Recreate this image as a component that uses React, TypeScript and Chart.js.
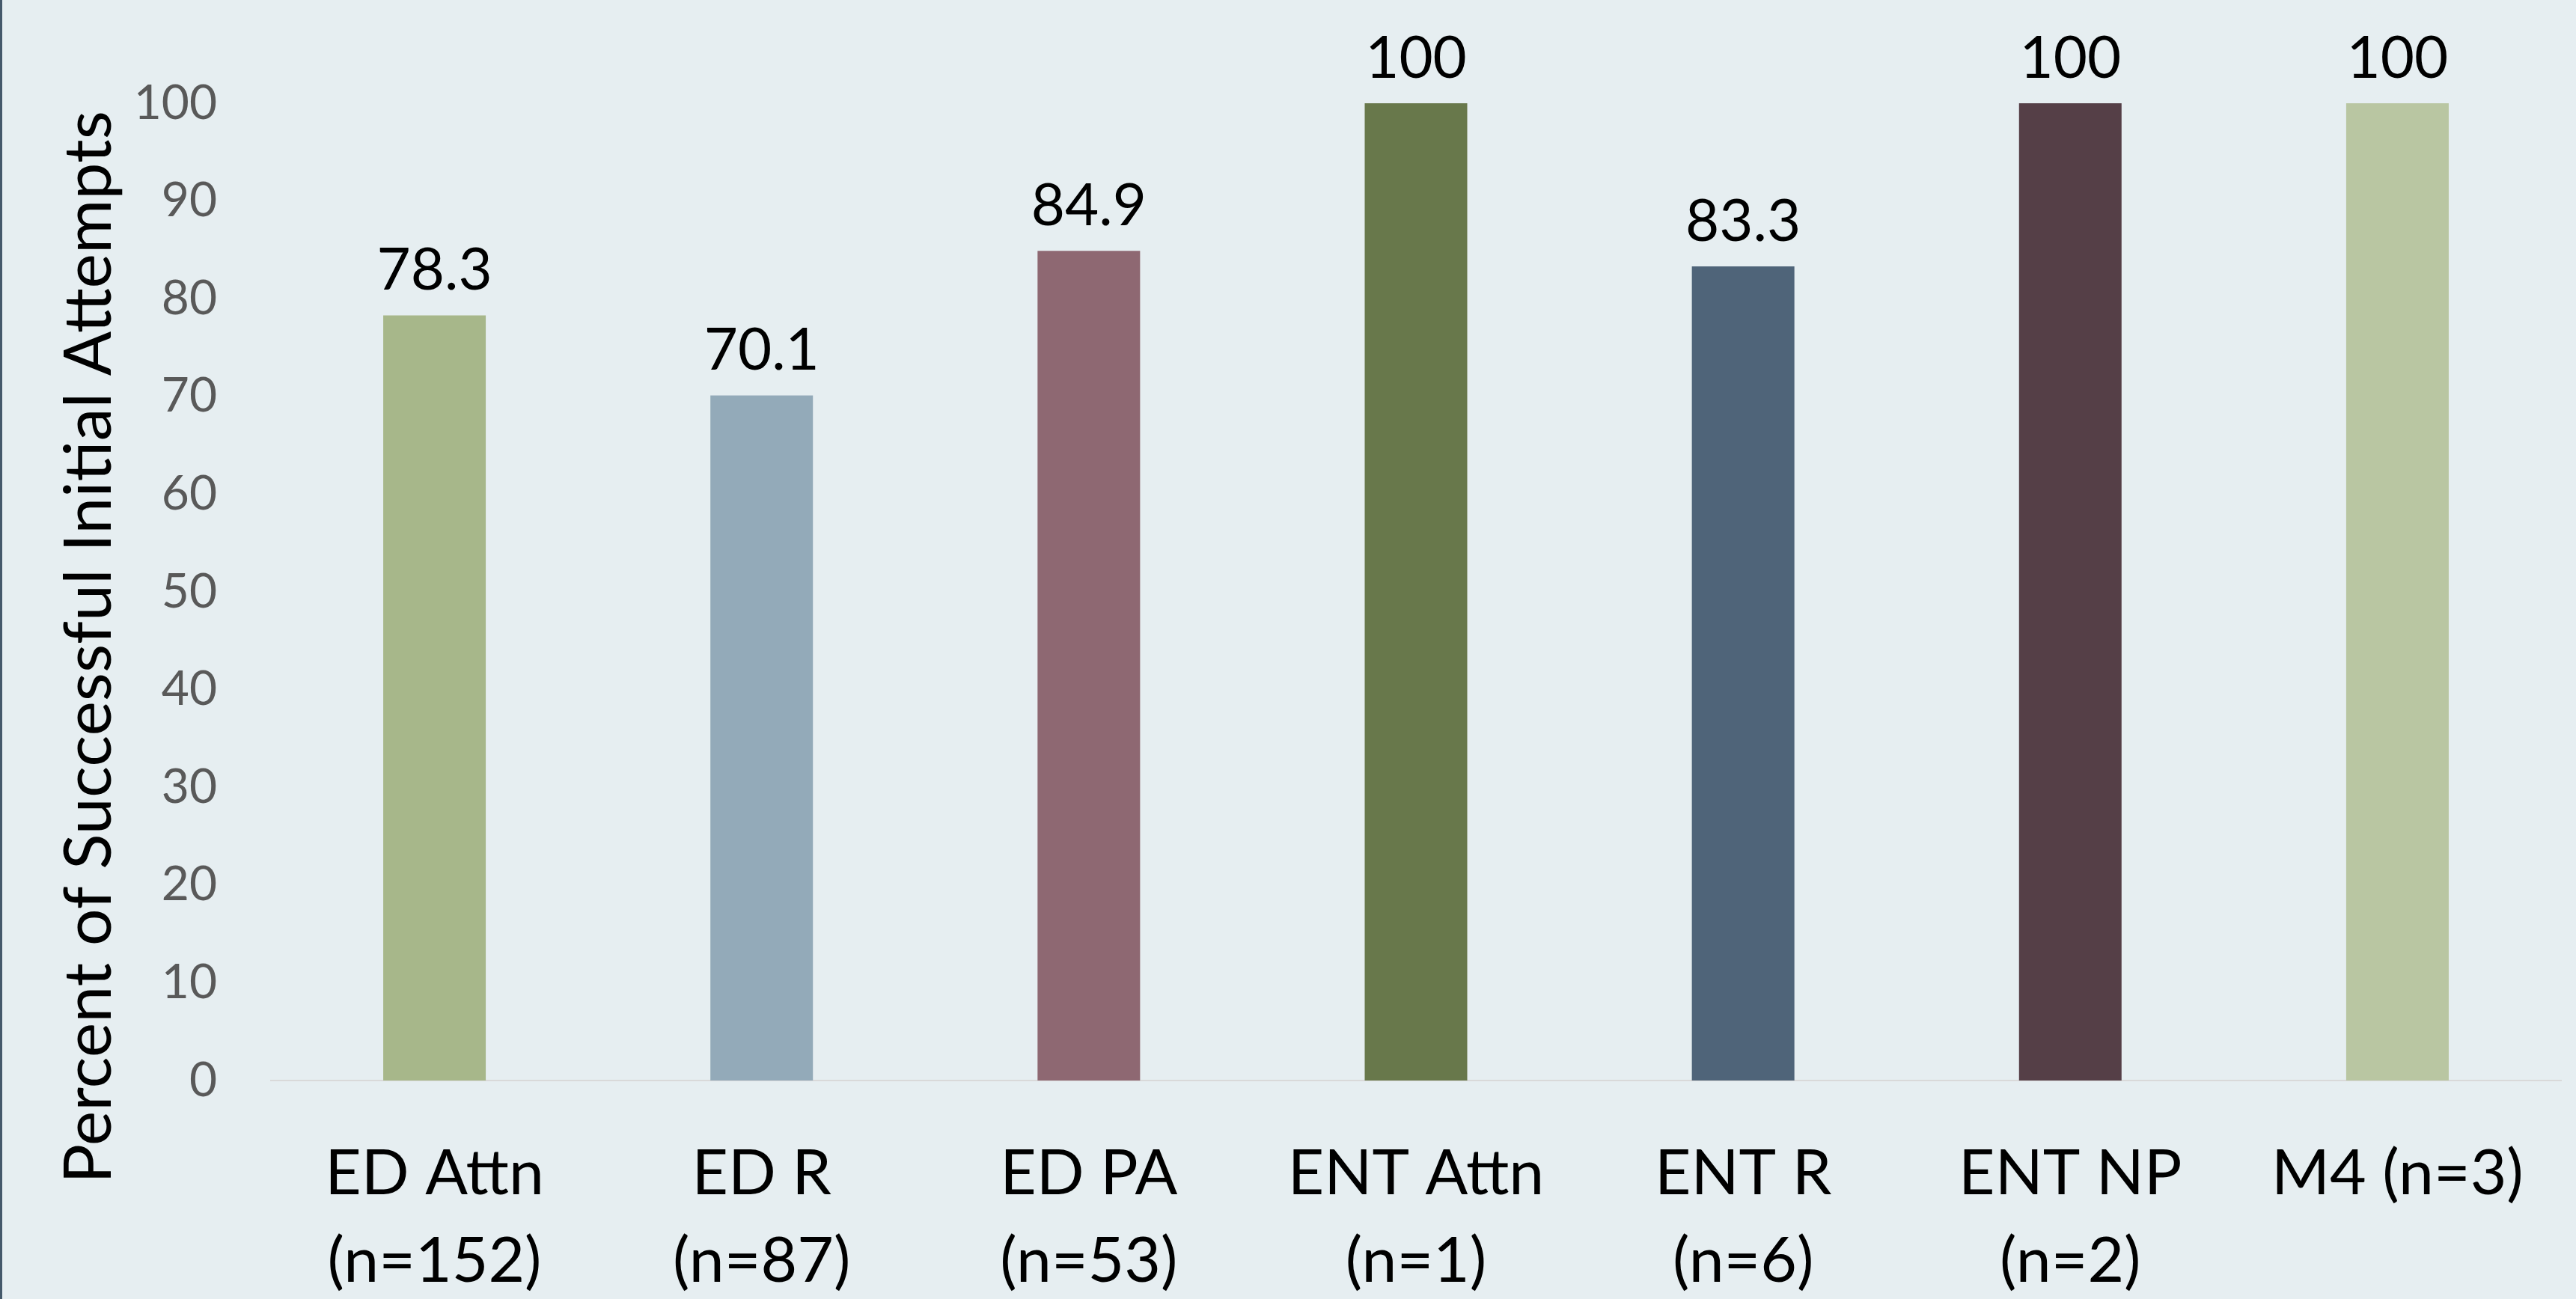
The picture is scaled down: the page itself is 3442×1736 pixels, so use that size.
import React, { useEffect, useRef } from 'react';
import { Chart, registerables } from 'chart.js';

Chart.register(...registerables);

const categories: (string | string[])[] = [
  ['ED Attn', '(n=152)'],
  ['ED R', '(n=87)'],
  ['ED PA', '(n=53)'],
  ['ENT Attn', '(n=1)'],
  ['ENT R', '(n=6)'],
  ['ENT NP', '(n=2)'],
  'M4 (n=3)',
];
const successRates = [78.3, 70.1, 84.9, 100, 83.3, 100, 100];
const barColors = ['#a7b78a', '#93aab9', '#8e6872', '#68784b', '#4f6479', '#553f47', '#b9c6a2'];
const yMin = 0;
const yMax = 100;
const yStep = 10;
const yAxisTitle = 'Percent of Successful Initial Attempts';

const FONT = "Lato, 'Open Sans', 'DejaVu Sans', sans-serif";
const BG = '#e6eef1';
const EDGE = '#45596b';

const backgroundPlugin = {
  id: 'bgPlugin',
  beforeDraw(chart: any) {
    const { ctx, width, height } = chart;
    ctx.save();
    ctx.fillStyle = BG;
    ctx.fillRect(0, 0, width, height);
    ctx.fillStyle = EDGE;
    ctx.fillRect(0, 0, 3, height);
    ctx.restore();
  },
};

const valueLabelPlugin = {
  id: 'valueLabels',
  afterDatasetsDraw(chart: any) {
    const { ctx } = chart;
    const meta = chart.getDatasetMeta(0);
    ctx.save();
    ctx.font = `78px ${FONT}`;
    ctx.fillStyle = '#000000';
    ctx.textAlign = 'center';
    ctx.textBaseline = 'alphabetic';
    meta.data.forEach((bar: any, i: number) => {
      ctx.fillText(String(successRates[i]), bar.x, bar.y - 34);
    });
    ctx.restore();
  },
};

const yTitlePlugin = {
  id: 'yTitle',
  afterDraw(chart: any) {
    const { ctx, chartArea } = chart;
    ctx.save();
    ctx.font = `88px ${FONT}`;
    ctx.fillStyle = '#000000';
    ctx.textAlign = 'center';
    ctx.textBaseline = 'alphabetic';
    const cy = (chartArea.top + chartArea.bottom) / 2 + 74;
    ctx.translate(148, cy);
    ctx.rotate(-Math.PI / 2);
    ctx.fillText(yAxisTitle, 0, 0);
    ctx.restore();
  },
};

export default function App() {
  const ref = useRef<HTMLCanvasElement | null>(null);

  useEffect(() => {
    document.body.style.margin = '0';
    const canvas = ref.current;
    if (!canvas) return;
    const chart = new Chart(canvas, {
      type: 'bar',
      data: {
        labels: categories,
        datasets: [
          {
            data: successRates,
            backgroundColor: barColors,
            borderWidth: 0,
            barPercentage: 0.3134,
            categoryPercentage: 1,
          },
        ],
      },
      options: {
        responsive: false,
        animation: false,
        devicePixelRatio: 1,
        layout: { padding: { top: 138, right: 20, bottom: 0, left: 0 } },
        plugins: {
          legend: { display: false },
          tooltip: { enabled: false },
          title: { display: false },
        },
        scales: {
          x: {
            grid: { display: false, drawTicks: false },
            border: { display: true, color: '#d9d9d9', width: 2 },
            ticks: {
              color: '#000000',
              font: { family: FONT, size: 84, lineHeight: 1.39 },
              padding: 67,
              maxRotation: 0,
              minRotation: 0,
              autoSkip: false,
            },
            afterFit: (s: any) => {
              s.height = 292;
            },
          },
          y: {
            min: yMin,
            max: yMax,
            ticks: {
              stepSize: yStep,
              color: '#595959',
              font: { family: FONT, size: 64 },
              padding: 72,
            },
            grid: { display: false, drawTicks: false },
            border: { display: false },
            afterFit: (s: any) => {
              s.width = 362;
            },
          },
        },
      },
      plugins: [backgroundPlugin, valueLabelPlugin, yTitlePlugin],
    });
    return () => chart.destroy();
  }, []);

  return (
    <div style={{ position: 'fixed', left: 0, top: 0, width: 3442, height: 1736, background: BG }}>
      <canvas ref={ref} width={3442} height={1736} style={{ display: 'block', width: 3442, height: 1736 }} />
    </div>
  );
}
